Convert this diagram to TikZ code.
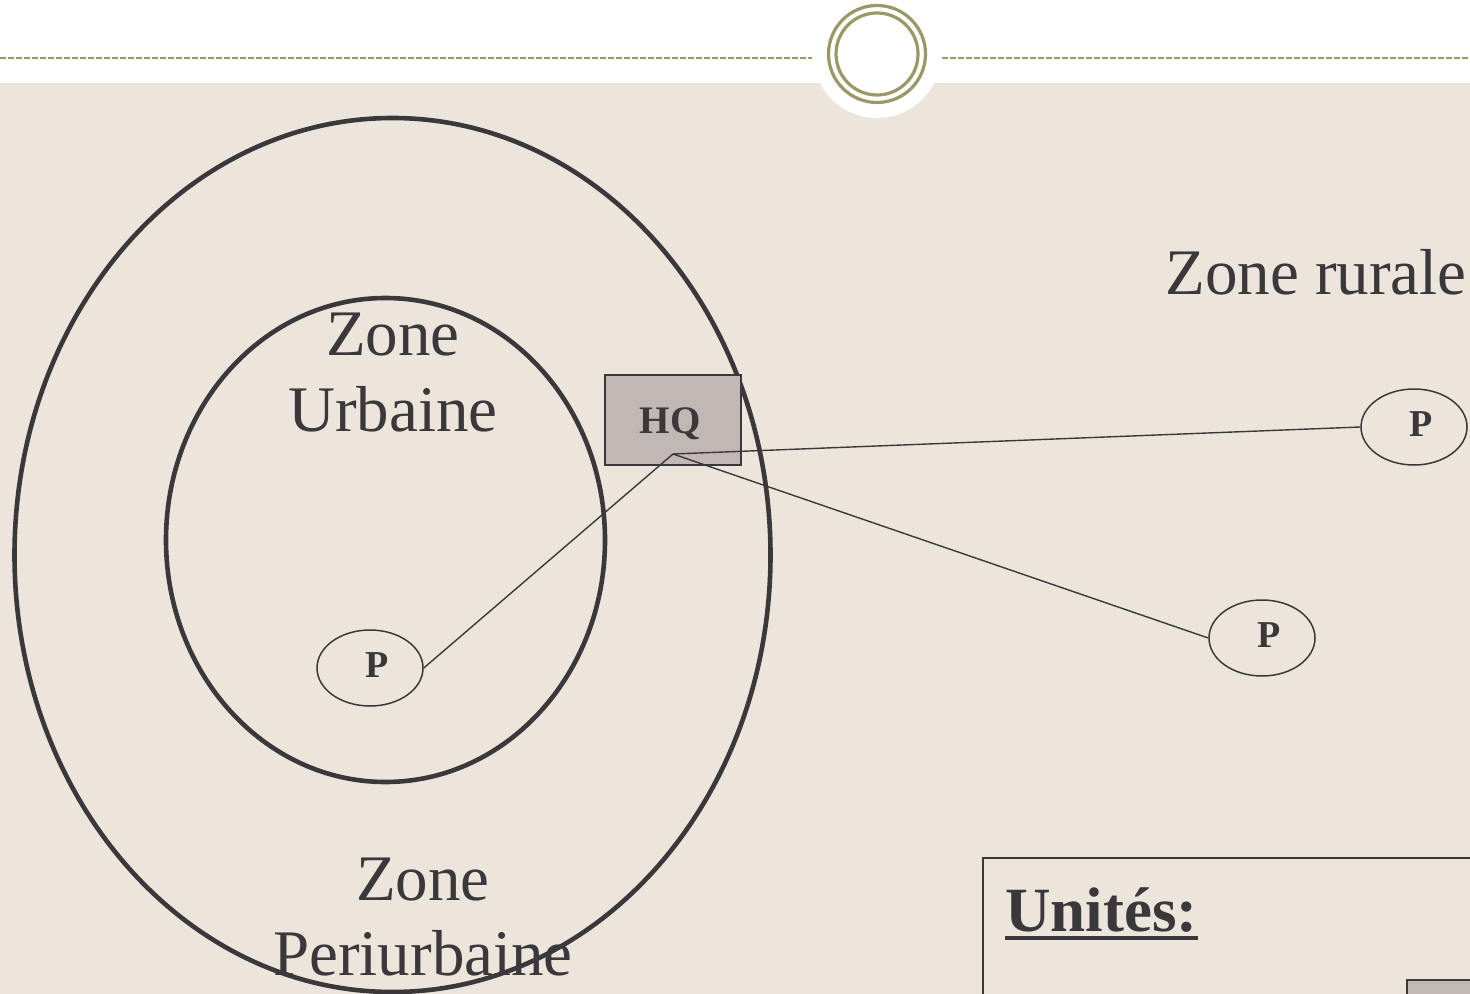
\documentclass[tikz,border=0pt]{standalone}
\usepackage{fontspec}
\setmainfont{Liberation Serif}
\usetikzlibrary{shapes.geometric}
\definecolor{bg}{HTML}{EBE5DC}
\definecolor{olive}{HTML}{9A9866}
\definecolor{ink}{HTML}{3A383B}
\definecolor{hqfill}{HTML}{C1B8B5}
\tikzset{
  zonering/.style={draw=ink, line width=2.3pt},
  pnode/.style={ellipse, draw=ink, line width=0.75pt, minimum width=53pt, minimum height=38pt, inner sep=0pt, font=\fontsize{19}{22}\selectfont\bfseries, text=ink},
  hqbox/.style={rectangle, draw=ink, line width=0.9pt, fill=hqfill, minimum width=68pt, minimum height=45pt, inner sep=0pt},
  link/.style={draw=ink, line width=0.7pt},
  bigtext/.style={font=\fontsize{32.5}{37}\selectfont, text=ink, anchor=base, inner sep=0pt},
}
\newcommand{\plabel}{\raisebox{2.5pt}{\hspace*{7pt}P}}
\begin{document}
\begin{tikzpicture}[x=0.5pt,y=-0.5pt]
\useasboundingbox (0,0) rectangle (1470,994);
% background
\fill[white] (0,0) rectangle (1470,83);
\fill[bg] (0,83) rectangle (1470,994);
\fill[white] (877,54) circle [radius=64];
\draw[olive, line width=1pt, dash pattern=on 3pt off 1pt] (0,58) -- (812,58);
\draw[olive, line width=1pt, dash pattern=on 3pt off 1pt] (942,58) -- (1470,58);
\draw[olive, line width=1.6pt] (877,54) circle [radius=48.5];
\draw[olive, line width=1.6pt] (877,54) circle [radius=41];
% zones
\node[zonering, ellipse, minimum width=378pt, minimum height=437pt, inner sep=0pt] (outer) at (392.5,555) {};
\node[zonering, ellipse, minimum width=219.5pt, minimum height=242pt, inner sep=0pt] (inner) at (385.5,540) {};
% texts
\node[bigtext] (zu1) at (393,356) {Zone};
\node[bigtext] (zu2) at (393,431) {Urbaine};
\node[bigtext] (zp1) at (423,900) {Zone};
\node[bigtext] (zp2) at (423,975) {Periurbaine};
\node[bigtext] (zr) at (1316,295) {Zone rurale};
% HQ
\node[hqbox] (hq) at (673,420) {};
\node[font=\fontsize{19.5}{22}\selectfont\bfseries, text=ink, inner sep=0pt] (hqt) at (670,424) {HQ};
\coordinate (hqc) at (673,454);
% P nodes
\node[pnode] (p1) at (1414,427) {\plabel};
\node[pnode] (p2) at (1262,638) {\plabel};
\node[pnode] (p3) at (370,668) {\plabel};
\draw[link] (hqc) -- (p1.west);
\draw[link] (hqc) -- (p2.west);
\draw[link] (hqc) -- (p3.east);
% legend
\draw[ink, line width=0.9pt] (1480,858) -- (983,858) -- (983,1004);
\node[font=\fontsize{31.5}{38}\selectfont\bfseries, text=ink, anchor=base west, inner sep=0pt] (units) at (1005,931) {Unités:};
\draw[ink, line width=1.75pt] ([yshift=-3.6pt]units.base west) -- ([yshift=-3.6pt]units.base east);
\node[rectangle, draw=ink, line width=0.8pt, fill=hqfill, anchor=north west, minimum width=40pt, minimum height=20pt, inner sep=0pt] (legbox) at (1406,979) {};
\end{tikzpicture}
\end{document}
